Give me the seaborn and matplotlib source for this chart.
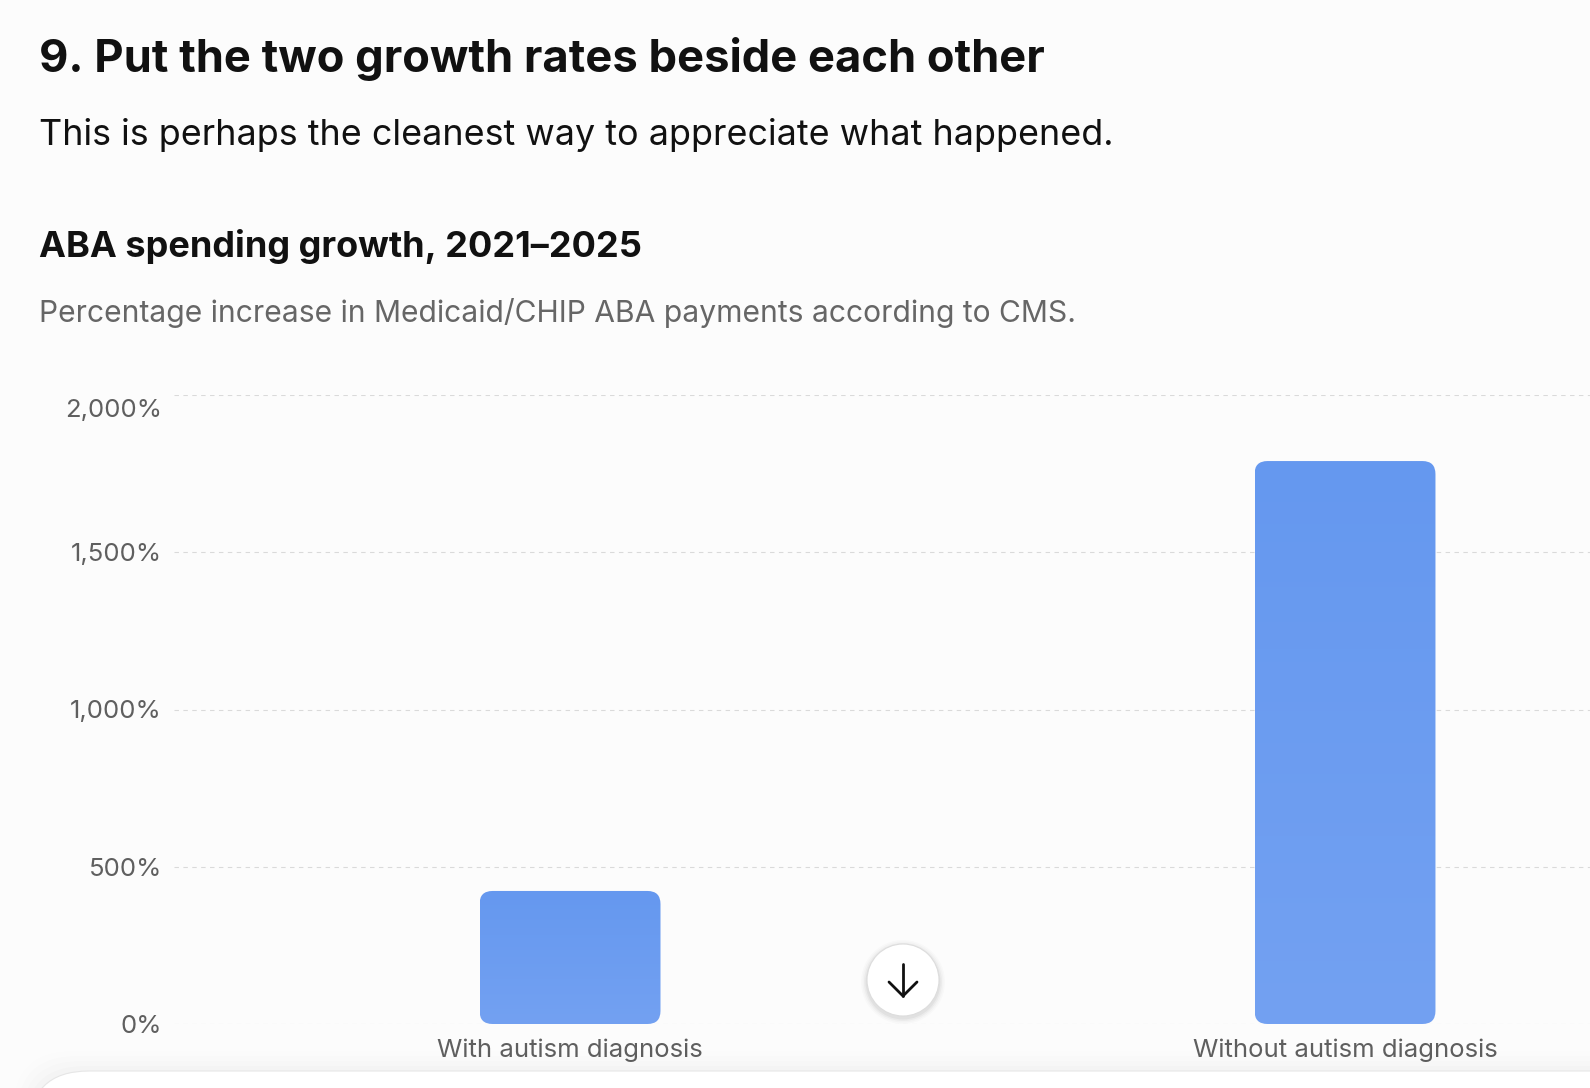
import matplotlib
matplotlib.use("Agg")
import matplotlib.pyplot as plt
import matplotlib.transforms as mtrans
from matplotlib.patches import FancyBboxPatch, Circle
from matplotlib.lines import Line2D
from matplotlib.colors import LinearSegmentedColormap
import numpy as np
import pandas as pd
import seaborn as sns

# ---- data ----
categories = ["With autism diagnosis", "Without autism diagnosis"]
growth_pct = [423, 1790]
y_ticks = [0, 500, 1000, 1500, 2000]
y_tick_labels = ["0%", "500%", "1,000%", "1,500%", "2,000%"]

title = "9. Put the two growth rates beside each other"
subtitle = "This is perhaps the cleanest way to appreciate what happened."
chart_title = "ABA spending growth, 2021\u20132025"
chart_subtitle = "Percentage increase in Medicaid/CHIP ABA payments according to CMS."

sns.set_theme(style="white")
plt.rcParams["font.family"] = ["Inter", "DejaVu Sans"]

W, H, DPI = 1590, 1088, 100
fig = plt.figure(figsize=(W / DPI, H / DPI), dpi=DPI)
fig.patch.set_facecolor("#FCFCFC")

def fx(x):
    return x / W

def fy(y):
    return 1 - y / H

# axes: 0% line at y=1024, 2000% at y=395; grid starts at x=174
ax_left, ax_right = 174, 1741
ax_top, ax_bot = 395, 1024
ax = fig.add_axes([fx(ax_left), fy(ax_bot), (ax_right - ax_left) / W, (ax_bot - ax_top) / H])
ax.set_facecolor("none")

df = pd.DataFrame({"category": categories, "growth": growth_pct})
bar_w = 0.2335
sns.barplot(data=df, x="category", y="growth", width=bar_w, ax=ax, color="#6699EF", saturation=1)

XL = (-0.511, 1.511)
ax.set_xlim(*XL)
ax.set_ylim(0, 2000)

# convert bars to rounded gradient bars
px_x = (ax_right - ax_left) / (XL[1] - XL[0])
px_y = (ax_bot - ax_top) / 2000.0
r_px = 13
r_x = r_px / px_x
r_y = r_px / px_y
grad = np.linspace(0, 1, 256).reshape(-1, 1)
cmap = LinearSegmentedColormap.from_list("barg", ["#73A1F2", "#6598EF"])
for p in list(ax.patches):
    x0, y0, w, h = p.get_x(), p.get_y(), p.get_width(), p.get_height()
    p.remove()
    fb = FancyBboxPatch((x0, y0), w, h,
                        boxstyle=f"round,pad=0,rounding_size={r_x}",
                        mutation_aspect=r_y / r_x,
                        facecolor="none", edgecolor="none", zorder=3)
    ax.add_patch(fb)
    im = ax.imshow(grad, cmap=cmap, extent=(x0, x0 + w, y0, y0 + h), origin="lower",
                   aspect="auto", zorder=3, interpolation="bilinear")
    im.set_clip_path(fb)

ax.set_xlim(*XL)
ax.set_ylim(0, 2000)

for s in ax.spines.values():
    s.set_visible(False)

ax.set_yticks(y_ticks)
ax.set_yticklabels(y_tick_labels)
ax.yaxis.grid(True, color="#DADADA", linestyle=(0, (4, 4)), linewidth=0.8)
ax.set_axisbelow(True)
ax.tick_params(axis="y", length=0, pad=8.6, labelsize=18.5, labelcolor="#5f5f5f")
ax.tick_params(axis="x", length=0, pad=10.5, labelsize=18.5, labelcolor="#5f5f5f")
ax.set_xlabel("")
ax.set_ylabel("")

# top label sits inside the plot
top_lbl = ax.get_yticklabels()[-1]
top_lbl.set_transform(top_lbl.get_transform() + mtrans.ScaledTranslation(0, -13 / DPI, fig.dpi_scale_trans))

# ---- texts ----
fig.text(fx(39), fy(72), title, fontsize=32.6, fontweight="bold", color="#111111", va="baseline", ha="left")
fig.text(fx(39), fy(145), subtitle, fontsize=25.8, color="#111111", va="baseline", ha="left")
fig.text(fx(39), fy(257), chart_title, fontsize=26, fontweight="bold", color="#111111", va="baseline", ha="left")
fig.text(fx(39), fy(322), chart_subtitle, fontsize=21.6, color="#666666", va="baseline", ha="left")

# ---- bottom card ----
inch = fig.dpi_scale_trans
for i, a in enumerate([0.010, 0.008, 0.006, 0.004]):
    sh = FancyBboxPatch((0.29 - 0.04 * (i + 1), -1.0), 20, (H - 1071) / DPI + 1.0 + 0.05 * (i + 1),
                        boxstyle="round,pad=0,rounding_size=0.6", transform=inch,
                        facecolor="#000000", alpha=a, edgecolor="none", zorder=1)
    fig.patches.append(sh)
card = FancyBboxPatch((0.29, -1.0), 20, (H - 1071) / DPI + 1.0,
                      boxstyle="round,pad=0,rounding_size=0.6", transform=inch,
                      facecolor="#FFFFFF", edgecolor="#E6E6E6", linewidth=0.8, zorder=2)
fig.patches.append(card)

# ---- scroll-down button ----
cx, cy, rr = 903 / DPI, (H - 980) / DPI, 36 / DPI
for i, a in enumerate([0.04, 0.03, 0.02, 0.015]):
    fig.patches.append(Circle((cx, cy - 0.02), rr + 0.015 * (i + 1), transform=inch,
                              facecolor="#000000", alpha=a, edgecolor="none", zorder=5))
fig.patches.append(Circle((cx, cy), rr, transform=inch, facecolor="#FFFFFF",
                          edgecolor="#DDDDDD", linewidth=0.8, zorder=6))

def ipt(x, y):
    return x / DPI, (H - y) / DPI

xs, ys = zip(ipt(903, 964), ipt(903, 996))
fig.lines.append(Line2D(xs, ys, transform=inch, color="#111111", linewidth=2.0,
                        solid_capstyle="round", zorder=7))
xs, ys = zip(ipt(889, 982), ipt(903, 996), ipt(917, 982))
fig.lines.append(Line2D(xs, ys, transform=inch, color="#111111", linewidth=2.0,
                        solid_capstyle="round", solid_joinstyle="miter", zorder=7))

fig.savefig("out.png", dpi=DPI, facecolor=fig.get_facecolor())
